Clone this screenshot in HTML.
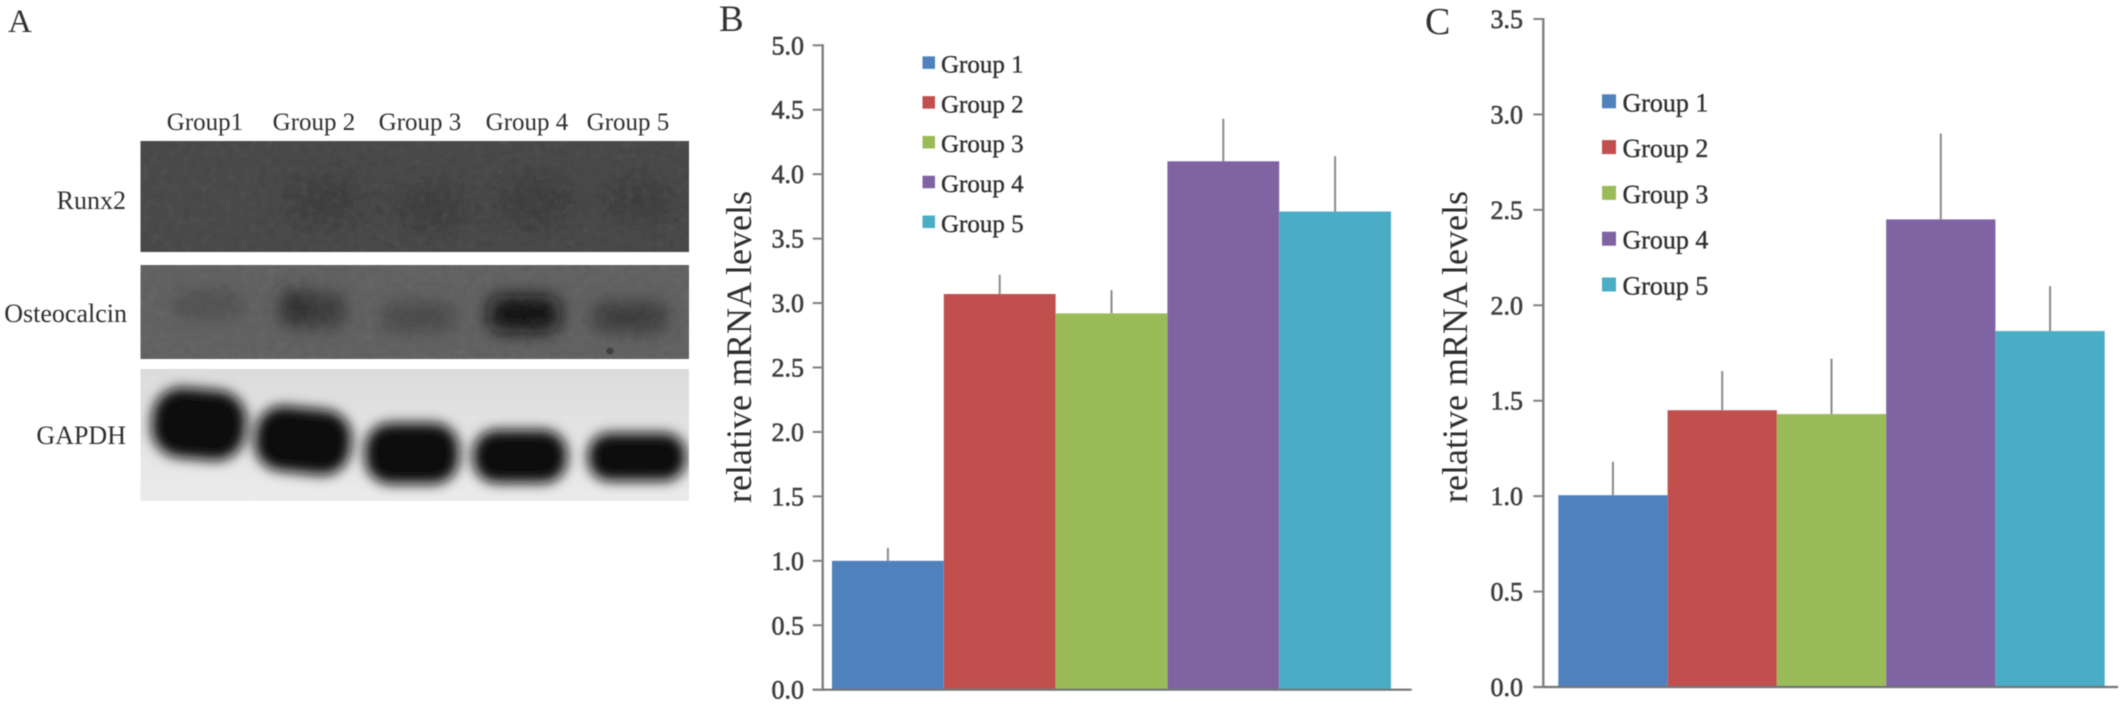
<!DOCTYPE html>
<html lang="en">
<head>
<meta charset="utf-8">
<title>Western blot and relative mRNA levels</title>
<style>
html,body{margin:0;padding:0;background:#fff;width:2126px;height:722px;overflow:hidden}
svg{display:block}
text{font-family:"Liberation Serif",serif}
</style>
</head>
<body>
<svg id="figure" xmlns="http://www.w3.org/2000/svg" width="2126" height="722" viewBox="0 0 2126 722">
  <defs>
    <filter id="b1" x="-20%" y="-50%" width="140%" height="200%"><feGaussianBlur stdDeviation="6.5"/></filter>
    <filter id="b2" x="-20%" y="-80%" width="140%" height="260%"><feGaussianBlur stdDeviation="9"/></filter>
    <filter id="b3" x="-30%" y="-100%" width="160%" height="300%"><feGaussianBlur stdDeviation="16"/></filter>
    <filter id="soft" x="-5%" y="-5%" width="110%" height="110%"><feGaussianBlur stdDeviation="0.6"/></filter>
    <filter id="grain" x="0" y="0" width="100%" height="100%">
      <feTurbulence type="fractalNoise" baseFrequency="0.12" numOctaves="2" seed="4"/>
      <feColorMatrix type="saturate" values="0"/>
    </filter>
    <clipPath id="clip-runx2"><rect x="140.5" y="141" width="548.5" height="111"/></clipPath>
    <clipPath id="clip-osteo"><rect x="140.5" y="265" width="548.5" height="94"/></clipPath>
    <clipPath id="clip-gapdh"><rect x="140.5" y="369" width="548.5" height="132"/></clipPath>
    <linearGradient id="gapdh-bg" x1="0" y1="0" x2="0" y2="1">
      <stop offset="0" stop-color="#dcdcdc"/><stop offset="1" stop-color="#ebebeb"/>
    </linearGradient>
  </defs>

  <g id="panel-a" filter="url(#soft)">
    <text x="8" y="32" font-size="33" fill="#333">A</text>

    <g font-size="25" fill="#2e2e2e" text-anchor="middle">
      <text x="205" y="130">Group1</text>
      <text x="314" y="130">Group 2</text>
      <text x="420" y="130">Group 3</text>
      <text x="527" y="130">Group 4</text>
      <text x="628" y="130">Group 5</text>
    </g>

    <g font-size="26" fill="#2e2e2e" text-anchor="end">
      <text x="126" y="209">Runx2</text>
      <text x="127" y="322">Osteocalcin</text>
      <text x="126" y="444">GAPDH</text>
    </g>

    <g clip-path="url(#clip-runx2)">
      <rect x="140.5" y="141" width="548.5" height="111" fill="#444"/>
      <g filter="url(#b3)" fill="#383838">
        <ellipse cx="325" cy="200" rx="42" ry="26"/>
        <ellipse cx="432" cy="208" rx="40" ry="26"/>
        <ellipse cx="535" cy="202" rx="42" ry="28"/>
        <ellipse cx="640" cy="200" rx="40" ry="24"/>
      </g>
      <rect x="140.5" y="141" width="548.5" height="111" filter="url(#grain)" opacity="0.1"/>
    </g>

    <g clip-path="url(#clip-osteo)">
      <rect x="140.5" y="265" width="548.5" height="94" fill="#5f5f5f"/>
      <g filter="url(#b2)">
        <rect x="172" y="290" width="72" height="28" rx="12" fill="#4e4e4e"/>
        <rect x="280" y="292" width="66" height="36" rx="14" fill="#383838"/>
        <rect x="281" y="290" width="26" height="30" rx="12" fill="#262626"/>
        <rect x="380" y="302" width="76" height="30" rx="12" fill="#474747"/>
        <rect x="488" y="296" width="72" height="36" rx="14" fill="#0e0e0e"/>
        <rect x="592" y="302" width="76" height="30" rx="12" fill="#383838"/>
      </g>
      <circle cx="610" cy="351" r="3.5" fill="#3a3a3a"/>
      <rect x="140.5" y="265" width="548.5" height="94" filter="url(#grain)" opacity="0.08"/>
    </g>

    <g clip-path="url(#clip-gapdh)">
      <rect x="140.5" y="369" width="548.5" height="132" fill="url(#gapdh-bg)"/>
      <g filter="url(#b1)" fill="#0a0a0a">
        <rect x="152" y="389" width="94" height="70" rx="30" transform="rotate(5 199 423)"/>
        <rect x="255" y="408" width="96" height="65" rx="28" transform="rotate(6 303 441)"/>
        <rect x="365" y="423" width="94" height="61" rx="26"/>
        <rect x="473" y="430" width="94" height="53" rx="24"/>
        <rect x="588" y="433" width="98" height="48" rx="22"/>
      </g>
    </g>
  </g>

  <g id="chart-b" filter="url(#soft)"></g>
  <g id="chart-c" filter="url(#soft)"></g>
</svg>

<script>
const categories = ["Group 1", "Group 2", "Group 3", "Group 4", "Group 5"];
const barColors = ["#4f81bd", "#c0504d", "#9bbb59", "#8064a2", "#4bacc6"];
const chartBValues = [1.0, 3.07, 2.92, 4.10, 3.71];
const chartBErrors = [0.10, 0.15, 0.18, 0.33, 0.43];
const chartBTicks = ["0.0", "0.5", "1.0", "1.5", "2.0", "2.5", "3.0", "3.5", "4.0", "4.5", "5.0"];
const chartCValues = [1.005, 1.45, 1.43, 2.45, 1.865];
const chartCErrors = [0.175, 0.205, 0.29, 0.45, 0.235];
const chartCTicks = ["0.0", "0.5", "1.0", "1.5", "2.0", "2.5", "3.0", "3.5"];
const axisTitle = "relative mRNA levels";

const NS = "http://www.w3.org/2000/svg";

function make(tag, attrs, parent, txt) {
  const el = document.createElementNS(NS, tag);
  for (const k in attrs) el.setAttribute(k, attrs[k]);
  if (txt !== undefined) el.textContent = txt;
  parent.appendChild(el);
  return el;
}

function drawChart(root, prefix, values, errors, ticks, g) {
  const maxTick = parseFloat(ticks[ticks.length - 1]);
  const yScale = v => g.y0 + (g.yTop - g.y0) * (v / maxTick);
  const bandW = (g.barRight - g.barLeft) / categories.length;
  const xScale = i => g.barLeft + i * bandW;

  const letter = make("text", {x: g.letterX, y: g.letterY, "font-size": g.letterSize, fill: "#333"}, root, prefix.toUpperCase());
  
  

  const title = make("text", {
    transform: "translate(" + g.titleX + " " + g.titleY + ") rotate(-90)",
    "text-anchor": "middle", "font-size": 36, fill: "#2e2e2e"
  }, root, axisTitle);
  
  

  categories.forEach((name, i) => {
    const cx = xScale(i) + bandW / 2;
    const err = make("line", {
      x1: cx, x2: cx, y1: yScale(values[i]), y2: yScale(values[i] + errors[i]),
      stroke: "#8a8a8a", "stroke-width": 2
    }, root);
    
    

    const bar = make("rect", {
      x: xScale(i), y: yScale(values[i]), width: bandW,
      height: g.y0 - yScale(values[i]), fill: barColors[i]
    }, root);
    
    
  });

  const yAxis = make("line", {x1: g.axisX, x2: g.axisX, y1: g.yTop - 1, y2: g.y0 + 1, stroke: "#808080", "stroke-width": 2.4}, root);
  
  

  const xAxis = make("line", {x1: g.axisX - 10, x2: g.axisRight, y1: g.y0, y2: g.y0, stroke: "#6f7478", "stroke-width": 2.2}, root);
  
  

  ticks.forEach(label => {
    const y = yScale(parseFloat(label));
    const tick = make("line", {x1: g.axisX - 10, x2: g.axisX, y1: y, y2: y, stroke: "#808080", "stroke-width": 2}, root);
    
    

    const tl = make("text", {
      x: g.tickLabelX, y: y + 9, "text-anchor": "end", "font-size": 26,
      fill: "#3c3c3c", stroke: "#3c3c3c", "stroke-width": 0.6
    }, root, label);
    
    
  });

  categories.forEach((name, i) => {
    const cy = g.legendY + i * g.legendStep;
    const sw = make("rect", {
      x: g.legendX, y: cy - g.swatch / 2, width: g.swatch, height: g.swatch, fill: barColors[i]
    }, root);
    
    

    const lt = make("text", {
      x: g.legendTextX, y: cy + 10, "font-size": g.legendSize,
      fill: "#2e2e2e", stroke: "#2e2e2e", "stroke-width": 0.35
    }, root, name);
    
    
  });
}

drawChart(document.getElementById("chart-b"), "b", chartBValues, chartBErrors, chartBTicks, {
  y0: 689.7, yTop: 45.3, axisX: 822.7, axisRight: 1411.7, barLeft: 832, barRight: 1391,
  tickLabelX: 804, titleX: 751, titleY: 347,
  letterX: 719, letterY: 31, letterSize: 37,
  legendX: 922.5, legendTextX: 941, legendY: 62.6, legendStep: 39.8, swatch: 12.5, legendSize: 25
});

drawChart(document.getElementById("chart-c"), "c", chartCValues, chartCErrors, chartCTicks, {
  y0: 687, yTop: 19, axisX: 1543.3, axisRight: 2118, barLeft: 1558.3, barRight: 2104.7,
  tickLabelX: 1523, titleX: 1467, titleY: 347,
  letterX: 1425, letterY: 34, letterSize: 38,
  legendX: 1602, legendTextX: 1622.5, legendY: 101.3, legendStep: 45.8, swatch: 14, legendSize: 26
});
</script>
</body>
</html>
